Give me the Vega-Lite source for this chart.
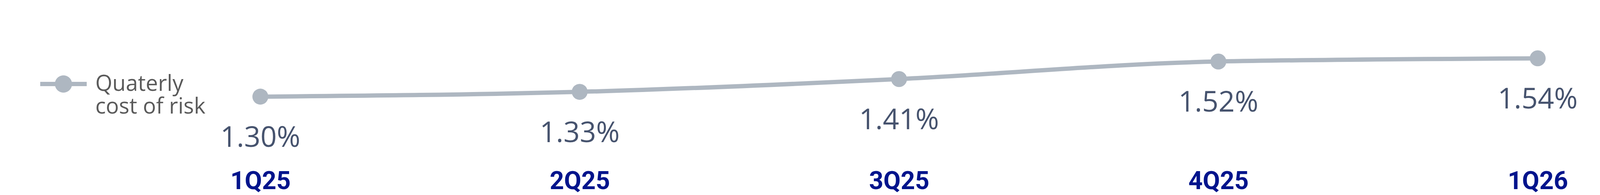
{
  "$schema": "https://vega.github.io/schema/vega-lite/v6.json",
  "autosize": "none",
  "width": 3597,
  "height": 326,
  "padding": {"left": 503, "right": 46, "top": 43, "bottom": 129},
  "background": "white",
  "config": {"view": {"stroke": null}},
  "data": {
    "values": [
      {"quarter": "1Q25", "cor": 0.0130, "series": "Quaterly cost of risk"},
      {"quarter": "2Q25", "cor": 0.0133, "series": "Quaterly cost of risk"},
      {"quarter": "3Q25", "cor": 0.0141, "series": "Quaterly cost of risk"},
      {"quarter": "4Q25", "cor": 0.0152, "series": "Quaterly cost of risk"},
      {"quarter": "1Q26", "cor": 0.0154, "series": "Quaterly cost of risk"}
    ]
  },
  "encoding": {
    "x": {
      "field": "quarter",
      "type": "ordinal",
      "sort": null,
      "title": null,
      "scale": {"type": "point", "padding": 0.2},
      "axis": {
        "domain": false,
        "ticks": false,
        "grid": false,
        "labelAngle": 0,
        "labelFont": "Roboto",
        "labelFontSize": 64,
        "labelFontWeight": "bold",
        "labelColor": "#00148c",
        "labelPadding": 62
      }
    },
    "y": {
      "field": "cor",
      "type": "quantitative",
      "scale": {"domain": [0.010, 0.018], "zero": false},
      "axis": null
    }
  },
  "layer": [
    {
      "mark": {"type": "line", "interpolate": "monotone", "color": "#aeb7c1", "strokeWidth": 11}
    },
    {
      "mark": {"type": "point", "shape": "circle", "filled": true, "opacity": 1, "size": 1662},
      "encoding": {
        "color": {
          "field": "series",
          "type": "nominal",
          "scale": {"range": ["#aeb7c1"]},
          "legend": {
            "orient": "none",
            "legendX": -400,
            "legendY": 112,
            "title": null,
            "symbolType": "M-1,-0.092H1V0.092H-1Z M0.37,0A0.37,0.37 0 1,1 -0.37,0A0.37,0.37 0 1,1 0.37,0Z",
            "symbolSize": 14161,
            "symbolStrokeWidth": 0,
            "labelFont": "Open Sans",
            "labelFontSize": 56,
            "labelColor": "#5a5a5a",
            "labelOffset": 22,
            "labelLimit": 0,
            "labelBaseline": "middle",
            "labelExpr": "['Quaterly', 'cost of risk']",
            "encode": {
              "labels": {"update": {"dy": {"value": 32}, "lineHeight": {"value": 65}}}
            }
          }
        }
      }
    },
    {
      "mark": {
        "type": "text",
        "baseline": "alphabetic",
        "align": "center",
        "dy": 128,
        "font": "Open Sans",
        "fontSize": 73,
        "color": "#46536e"
      },
      "encoding": {
        "text": {"field": "cor", "type": "quantitative", "format": ".2%"}
      }
    }
  ]
}
